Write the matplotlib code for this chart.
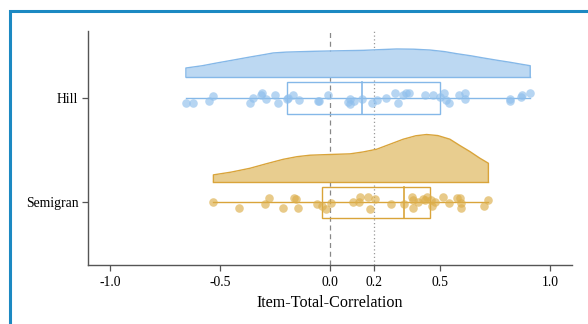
import matplotlib
matplotlib.use("Agg")
import matplotlib.pyplot as plt
from matplotlib.patches import Rectangle
import numpy as np

# group names and y positions
groups = ["Semigran", "Hill"]
positions = [1, 2]

# Item-total correlations (x) and their vertical jitter
hill_x = [-0.655, -0.621, -0.548, -0.530, -0.364, -0.352, -0.311, -0.315, -0.292, -0.250,
          -0.235, -0.197, -0.189, -0.170, -0.139, -0.053, -0.048, -0.008, 0.080, 0.091,
          0.092, 0.111, 0.145, 0.192, 0.212, 0.253, 0.295, 0.309, 0.333, 0.345,
          0.359, 0.433, 0.468, 0.500, 0.520, 0.529, 0.541, 0.588, 0.614, 0.614,
          0.817, 0.818, 0.868, 0.874, 0.909]
hill_jit = [-0.050, -0.050, -0.028, 0.022, -0.047, -0.003, 0.044, 0.025, -0.009, 0.028,
            -0.050, -0.013, -0.003, 0.031, -0.022, -0.028, -0.028, 0.031, -0.041, -0.006,
            -0.057, -0.028, -0.013, -0.050, -0.022, 0.000, 0.044, -0.050, 0.025, 0.044,
            0.047, 0.025, 0.028, 0.013, 0.044, -0.022, -0.053, 0.031, 0.047, -0.013,
            -0.009, -0.028, 0.006, 0.028, 0.050]

semi_x = [-0.530, -0.412, -0.294, -0.279, -0.215, -0.164, -0.156, -0.147, -0.061, -0.036,
          -0.020, 0.003, 0.103, 0.133, 0.136, 0.174, 0.182, 0.205, 0.276, 0.338,
          0.373, 0.379, 0.379, 0.399, 0.424, 0.432, 0.439, 0.459, 0.465, 0.477,
          0.512, 0.542, 0.576, 0.591, 0.594, 0.594, 0.699, 0.720]
semi_jit = [0.006, -0.057, -0.013, 0.044, -0.053, 0.041, 0.038, -0.050, -0.016, -0.038,
            -0.060, -0.006, 0.003, 0.000, 0.053, 0.053, -0.060, 0.031, -0.016, -0.016,
            0.053, -0.053, 0.019, 0.003, 0.031, 0.025, 0.057, 0.025, -0.035, 0.003,
            0.050, -0.006, 0.041, 0.047, -0.050, -0.006, -0.035, 0.022]

# box summaries (q1, median, q3)
hill_box = [-0.195, 0.145, 0.500]
semi_box = [-0.035, 0.335, 0.455]

# density outlines (x, height in axis units)
hill_dens_x = [-0.655, -0.58, -0.515, -0.44, -0.364, -0.30, -0.258, -0.20, -0.136, -0.07, 0.0,
               0.075, 0.152, 0.23, 0.303, 0.38, 0.455, 0.52, 0.576, 0.64, 0.697, 0.76, 0.818, 0.87, 0.91]
hill_dens_y = [0.086, 0.108, 0.134, 0.162, 0.191, 0.214, 0.230, 0.238, 0.242, 0.246, 0.249,
               0.252, 0.255, 0.262, 0.268, 0.266, 0.258, 0.243, 0.223, 0.203, 0.182, 0.160, 0.141, 0.122, 0.108]
semi_dens_x = [-0.530, -0.45, -0.364, -0.29, -0.212, -0.15, -0.091, 0.0, 0.091, 0.15, 0.212,
               0.27, 0.333, 0.39, 0.439, 0.49, 0.545, 0.59, 0.636, 0.68, 0.720]
semi_dens_y = [0.064, 0.090, 0.127, 0.170, 0.213, 0.238, 0.252, 0.259, 0.265, 0.283, 0.309,
               0.355, 0.405, 0.438, 0.450, 0.440, 0.405, 0.345, 0.287, 0.225, 0.175]

blue_fill = "#bcd8f2"
blue_edge = "#85b8e8"
blue_pt = "#8fbfec"
gold_fill = "#e8cd8f"
gold_edge = "#d9a43a"
gold_pt = "#dcae4a"

plt.rcParams['font.family'] = ['Liberation Serif', 'DejaVu Serif']

fig = plt.figure(figsize=(5.88, 3.24), dpi=100)
ax = fig.add_axes([88 / 588, 1 - 265 / 324, (572 - 88) / 588, (265 - 31) / 324])

cloud_off = 0.20
box_half = 0.15

series = [
    (2, hill_x, hill_jit, hill_box, hill_dens_x, hill_dens_y, blue_fill, blue_edge, blue_pt),
    (1, semi_x, semi_jit, semi_box, semi_dens_x, semi_dens_y, gold_fill, gold_edge, gold_pt),
]

for pos, xs, jit, box, dx, dy, fc, ec, pc in series:
    base = pos + cloud_off
    ax.fill_between(dx, base, base + np.array(dy), color=fc, lw=0, zorder=2)
    ax.plot([dx[0]] + dx + [dx[-1]], [base] + list(base + np.array(dy)) + [base],
            color=ec, lw=1.0, zorder=3)
    ax.plot([dx[0], dx[-1]], [base, base], color=ec, lw=1.0, zorder=3)

    # whisker line from min to max
    ax.plot([min(xs), max(xs)], [pos, pos], color=ec, lw=1.0, zorder=3)
    q1, med, q3 = box
    ax.add_patch(Rectangle((q1, pos - box_half), q3 - q1, 2 * box_half,
                           fill=False, edgecolor=ec, lw=1.0, zorder=3))
    ax.plot([med, med], [pos - box_half, pos + box_half], color=ec, lw=1.2, zorder=3)

    ax.scatter(xs, pos + np.array(jit), s=38, color=pc, alpha=0.65, lw=0, zorder=4)

ax.axvline(0.0, color="#888888", lw=0.9, ls=(0, (4, 3)), zorder=1)
ax.axvline(0.2, color="#999999", lw=0.9, ls=(0, (1, 2)), zorder=1)

ax.set_xlim(-1.1, 1.1)
ax.set_ylim(0.402, 2.64)
ax.set_xticks([-1.0, -0.5, 0.0, 0.2, 0.5, 1.0])
ax.set_xticklabels(["-1.0", "-0.5", "0.0", "0.2", "0.5", "1.0"])
ax.set_yticks(positions)
ax.set_yticklabels(groups)
ax.tick_params(axis="both", labelsize=9.8, color="#555555", length=4, width=0.9)
ax.tick_params(axis="y", pad=3)
ax.tick_params(axis="x", pad=4)
ax.set_xlabel("Item-Total-Correlation", fontsize=11.6, labelpad=4)

for side in ["top", "right"]:
    ax.spines[side].set_visible(False)
for side in ["left", "bottom"]:
    ax.spines[side].set_color("#555555")
    ax.spines[side].set_linewidth(1.0)

# blue frame around the figure (cut off at right and bottom)
fig.patches.append(Rectangle((9.5 / 588, -0.05), 1.1, 1 - 10.5 / 324 + 0.05,
                             transform=fig.transFigure, fill=False,
                             edgecolor="#1c89c2", lw=2.2, zorder=0))

fig.savefig("out.png", dpi=100)
